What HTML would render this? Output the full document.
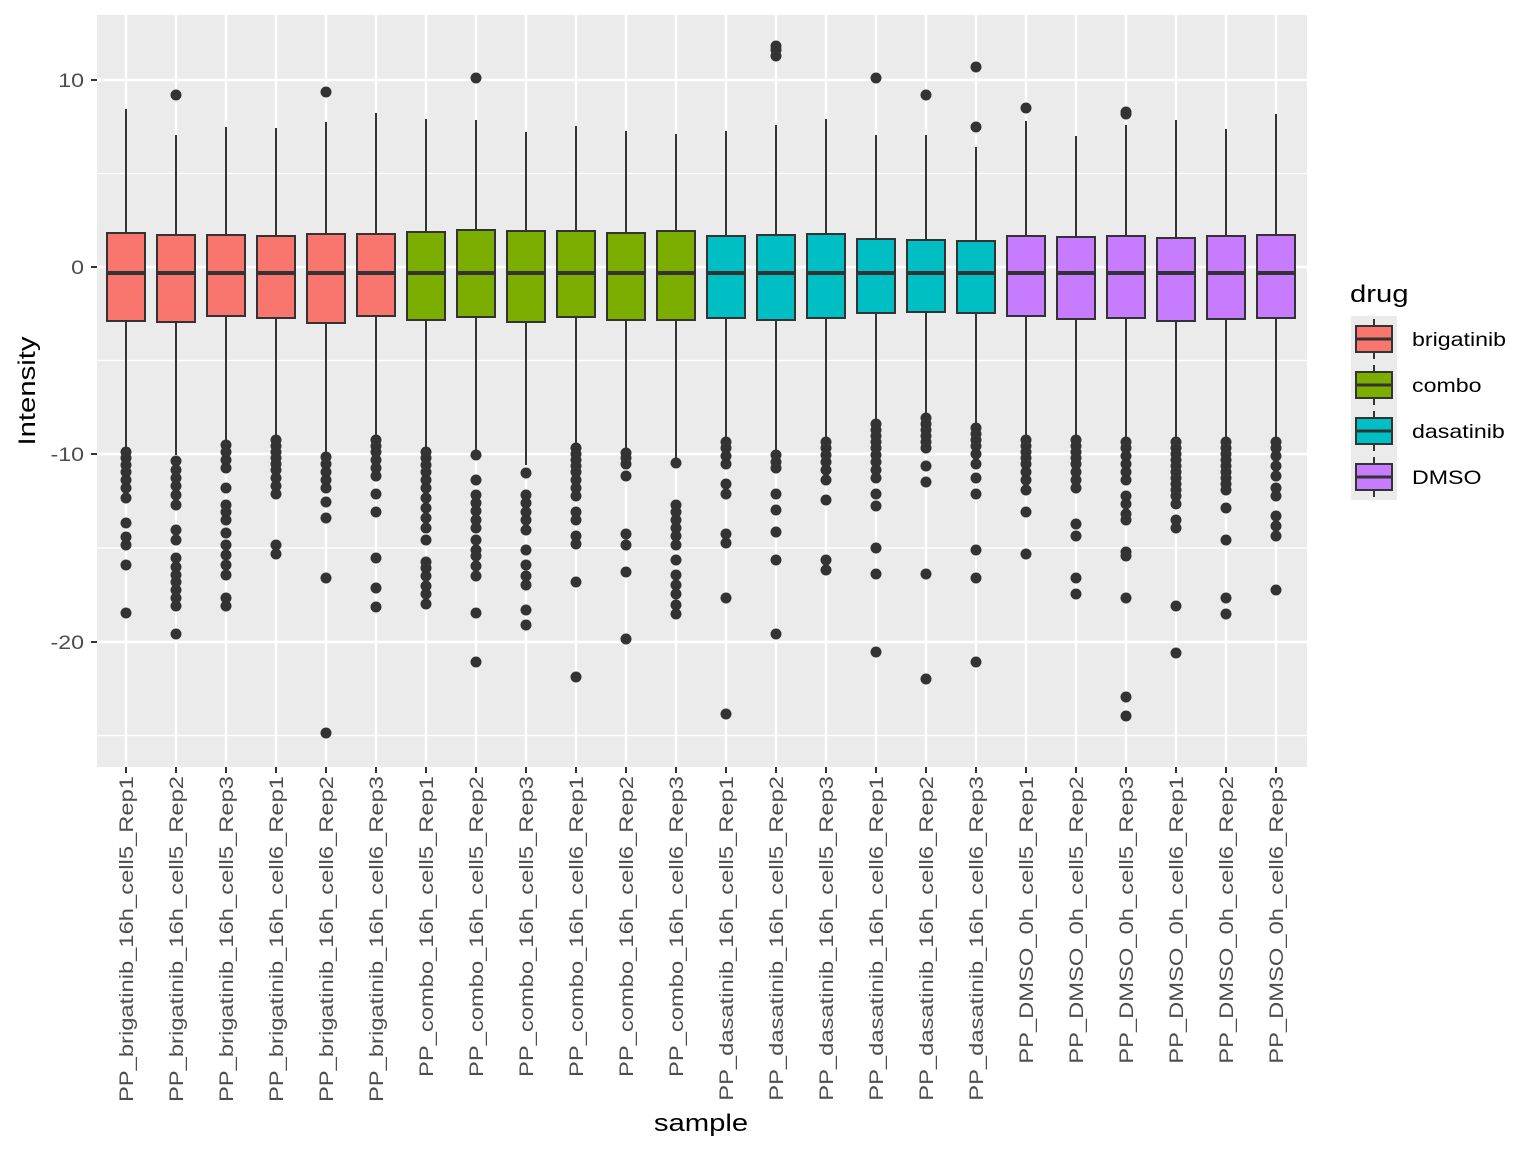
<!DOCTYPE html>
<html><head><meta charset="utf-8"><style>body{margin:0;background:#fff}svg{display:block}</style></head>
<body>
<svg id="s" width="1536" height="1152" xmlns="http://www.w3.org/2000/svg" font-family="Liberation Sans, sans-serif"></svg>
<script>
const D=[
[109,233,321,450,[],[452,458,465,472,480,488,498,523,537,545,565,613]],
[135,235,322,455,[95],[461,470,478,486,495,505,530,540,558,567,575,582,590,598,606,634]],
[127,235,316,440,[],[445,452,460,468,488,505,512,520,533,545,555,565,575,598,606]],
[128,236,318,437,[],[440,446,452,458,464,470,478,486,494,545,554]],
[122,234,323,455,[92],[457,464,472,480,488,502,518,578,733]],
[113,234,316,437,[],[440,446,452,460,468,476,494,512,558,588,607]],
[119,232,320,448,[],[452,458,465,472,480,488,498,508,518,528,540,562,568,576,586,594,604]],
[120,230,317,452,[78],[455,480,495,503,511,520,528,540,550,556,566,576,613,662]],
[132,231,322,465,[],[473,495,503,512,520,530,550,565,576,585,610,625]],
[126,231,317,445,[],[448,454,460,466,472,480,488,496,512,520,536,544,582,677]],
[131,233,320,450,[],[453,458,464,476,534,545,572,639]],
[134,231,320,463,[],[463,505,512,520,528,536,545,560,575,585,594,605,614]],
[131,236,318,440,[],[442,448,456,464,484,494,534,543,598,714]],
[125,235,320,450,[46,50,56],[455,462,468,494,510,532,560,634]],
[119,234,318,440,[],[442,448,455,462,470,480,500,560,570]],
[135,239,313,422,[78],[424,430,436,442,448,455,462,470,478,494,506,548,574,652]],
[135,240,312,415,[95],[418,424,430,436,442,448,466,482,574,679]],
[147,241,313,425,[67,127],[428,434,440,446,454,464,478,494,550,578,662]],
[121,236,316,437,[108],[440,446,452,458,464,472,480,490,512,554]],
[136,237,319,437,[],[440,446,452,458,464,472,480,488,524,536,578,594]],
[125,236,318,440,[112,114],[442,448,456,464,472,480,496,504,514,520,552,556,598,697,716]],
[120,238,321,440,[],[442,448,454,460,466,472,478,484,490,496,504,520,528,606,653]],
[129,236,319,440,[],[442,448,454,460,466,472,478,484,490,508,540,598,614]],
[114,235,318,440,[],[442,448,456,466,476,488,496,516,526,536,590]]];
const cols=['#F8766D','#7CAE00','#00BFC4','#C77CFF'];
const names=['brigatinib','combo','dasatinib','DMSO'];
const labs=[];
['brigatinib','combo','dasatinib'].forEach(d=>['cell5','cell6'].forEach(c=>[1,2,3].forEach(r=>labs.push(`PP_${d}_16h_${c}_Rep${r}`))));
['cell5','cell6'].forEach(c=>[1,2,3].forEach(r=>labs.push(`PP_DMSO_0h_${c}_Rep${r}`)));
const S=1.22;
let h='<rect x="97" y="15" width="1210" height="752" fill="#EBEBEB"/>';
[173.5,360.5,548,735.5].forEach(y=>h+=`<line x1="97" x2="1307" y1="${y}" y2="${y}" stroke="#fff" stroke-width="1.2"/>`);
[80,267,454,642].forEach(y=>h+=`<line x1="97" x2="1307" y1="${y}" y2="${y}" stroke="#fff" stroke-width="2.4"/>`);
for(let i=0;i<24;i++){const x=126+50*i;h+=`<line x1="${x}" x2="${x}" y1="15" y2="767" stroke="#fff" stroke-width="2.4"/>`;}
D.forEach((d,i)=>{const x=126+50*i,c=cols[Math.floor(i/6)];
h+=`<line x1="${x}" x2="${x}" y1="${d[0]}" y2="${d[3]}" stroke="#333" stroke-width="2"/>`;
h+=`<rect x="${x-19}" y="${d[1]}" width="38" height="${d[2]-d[1]}" fill="${c}" stroke="#333" stroke-width="2"/>`;
h+=`<line x1="${x-19}" x2="${x+19}" y1="273" y2="273" stroke="#333" stroke-width="4"/>`;
d[4].concat(d[5]).forEach(y=>h+=`<circle cx="${x}" cy="${y}" r="5.5" fill="#333"/>`);
h+=`<line x1="${x}" x2="${x}" y1="767" y2="773" stroke="#333" stroke-width="2"/>`;
h+=`<text transform="translate(${x+7},776) rotate(-90) scale(1.25,1)" text-anchor="end" font-size="19" fill="#4D4D4D">${labs[i]}</text>`;});
[[80,'10'],[267,'0'],[454,'-10'],[642,'-20']].forEach(([y,t])=>{h+=`<line x1="91" x2="97" y1="${y}" y2="${y}" stroke="#333" stroke-width="2"/><text transform="translate(84,${y+7}) scale(${S},1)" text-anchor="end" font-size="19" fill="#4D4D4D">${t}</text>`;});
h+=`<text transform="translate(701,1131) scale(${S},1)" text-anchor="middle" font-size="24">sample</text>`;
h+=`<text transform="translate(35,391) rotate(-90) scale(${S},1)" text-anchor="middle" font-size="24">Intensity</text>`;
h+=`<text transform="translate(1350,302) scale(${S},1)" font-size="24">drug</text>`;
names.forEach((n,i)=>{const y=316+46*i;
h+=`<rect x="1351" y="${y}" width="46" height="46" fill="#EBEBEB"/>`;
h+=`<line x1="1374" x2="1374" y1="${y+3}" y2="${y+43}" stroke="#333" stroke-width="2"/>`;
h+=`<rect x="1356" y="${y+10}" width="36" height="26" fill="${cols[i]}" stroke="#333" stroke-width="2"/>`;
h+=`<line x1="1356" x2="1392" y1="${y+23}" y2="${y+23}" stroke="#333" stroke-width="3"/>`;
h+=`<text transform="translate(1412,${y+30}) scale(${S},1)" font-size="19">${n}</text>`;});
document.getElementById('s').innerHTML=h;
</script>
</body></html>
